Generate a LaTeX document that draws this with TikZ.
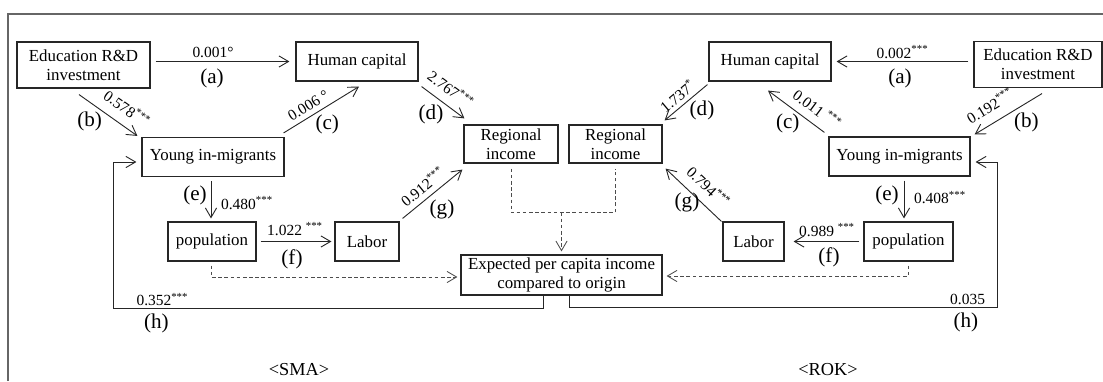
\documentclass[tikz,border=0pt]{standalone}
\usepackage{fontspec}
\setmainfont{Liberation Serif}
\usepackage{tikz}
\usetikzlibrary{arrows.meta, calc}
\tikzset{>={Straight Barb[length=2.4mm,width=2.8mm]}}
\newcommand{\boxfont}{\fontsize{12}{13.5}\selectfont}
\newcommand{\coeffont}{\fontsize{11}{13}\selectfont}
\newcommand{\tagfont}{\fontsize{15}{17}\selectfont}
\newcommand{\sig}{\textsuperscript{***}}

\begin{document}
\begin{tikzpicture}[x=0.025cm, y=-0.025cm,
		varbox/.style = {draw=black!85, line width=0.8pt, inner sep=1pt, minimum height=0.975cm, align=center, font=\boxfont},
		coef/.style = {inner sep=1pt, font=\coeffont},
		tag/.style = {inner sep=1pt, font=\tagfont},
		link/.style = {->, line width=0.65pt, draw=black!85},
		flow/.style = {line width=0.6pt, draw=black!70, dash pattern=on 2.6pt off 1.8pt}]
		\useasboundingbox (0,0) rectangle (1103,381);
		\draw[black!60, line width=0.9pt] (8,381) -- (8,14) -- (1103,14);

		% SMA
		\node (edu1) [varbox, minimum width=3.325cm, minimum height=1.15cm] at (83.5,65) {Education R\&D\\investment};
		\node (hc1) [varbox, minimum width=3.05cm] at (357,61.5) {Human capital};
		\node (young1) [varbox, minimum width=3.55cm] at (213,157) {Young in-migrants};
		\node (reg1) [varbox, minimum width=2.35cm, minimum height=0.95cm] at (511,144) {Regional\\income};
		\node (pop1) [varbox, minimum width=2.2cm] at (212,241.5) {population};
		\node (lab1) [varbox, minimum width=1.6cm] at (367,241.5) {Labor};
		\node (exp) [varbox, minimum width=5.025cm, minimum height=1cm] at (561.5,275) {Expected per capita income\\compared to origin};
		% ROK
		\node (reg2) [varbox, minimum width=2.325cm, minimum height=0.95cm] at (615.5,144) {Regional\\income};
		\node (hc2) [varbox, minimum width=3.05cm] at (770,61.5) {Human capital};
		\node (edu2) [varbox, minimum width=3.2cm, minimum height=1.15cm] at (1038,64.5) {Education R\&D\\investment};
		\node (young2) [varbox, minimum width=3.525cm] at (899.5,156.5) {Young in-migrants};
		\node (pop2) [varbox, minimum width=2.225cm] at (908.5,241.5) {population};
		\node (lab2) [varbox, minimum width=1.525cm] at (753.5,241.5) {Labor};

		\node (sma) [font=\fontsize{13}{15}\selectfont] at (299,370) {<SMA>};
		\node (rok) [font=\fontsize{13}{15}\selectfont] at (828,370) {<ROK>};

		\coordinate (join) at ($(exp.north)+(0,-42)$);
		\coordinate (hl) at ($(young1.west)+(-28,151)$);
		\coordinate (hr) at ($(young2.east)+(27,150.5)$);

		% SMA paths
		\draw[link] ($(edu1.east |- hc1.west)+(5,0)$) -- node[coef, midway, shift={(-9.5,-9.5)}] {0.001°} node[tag, midway, shift={(-10.5,16.5)}] {(a)} ($(hc1.west)+(-6,0)$);
		\draw[link] ($(edu1.south)+(-4.5,6)$) -- node[coef, sloped, pos=0.66, above=5.9pt] {0.578\sig} node[tag, midway, shift={(-18.5,6.5)}] {(b)} ($(young1.north west)+(-4,-1)$);
		\draw[link] ($(young1.north east)+(-1,-4)$) -- node[coef, sloped, pos=0.40, above=2.3pt] {0.006 °} node[tag, midway, shift={(6,15)}] {(c)} ($(hc1.south)+(2,5)$);
		\draw[link] ($(hc1.south east)+(3,5)$) -- node[coef, sloped, pos=0.47, above=5.1pt] {2.767\sig} node[tag, midway, shift={(-12,11.5)}] {(d)} ($(reg1.north west)+(1,-6)$);
		\draw[link] ($(pop1.north |- young1.south)+(-1,4)$) -- node[tag, midway, shift={(-16,-4.5)}] {(e)} node[coef, midway, shift={(36,3.5)}] {0.480\sig} ($(pop1.north)+(-1,-3)$);
		\draw[link] ($(pop1.east)+(4,0)$) -- node[coef, midway, shift={(-1,-12.5)}] {1.022 \sig} node[tag, midway, shift={(-4,17.5)}] {(f)} ($(lab1.west)+(-3,0)$);
		\draw[link] ($(lab1.north east)+(3,-3)$) -- node[coef, sloped, pos=0.46, above=2.6pt] {0.912\sig} node[tag, midway, shift={(9.5,15)}] {(g)} ($(reg1.south west)+(-1,6)$);
		\draw[link] ($(exp.south)+(-18.5,0)$) |- node[coef, pos=0.943, above] {0.352\sig} node[tag, pos=0.95, below=3pt] {(h)} (hl) |- ($(young1.west)+(-5,5)$);

		% ROK paths
		\draw[link] ($(edu2.west |- hc2.east)+(-5,0)$) -- node[coef, midway, shift={(0,-9.5)}] {0.002\sig} node[tag, midway, shift={(-2.5,16.5)}] {(a)} ($(hc2.east)+(5,0)$);
		\draw[link] ($(edu2.south)+(4,5.5)$) -- node[coef, sloped, pos=0.645, above=6pt] {0.192\sig} node[tag, midway, shift={(18,8)}] {(b)} ($(young2.north east)+(4,-2)$);
		\draw[link] ($(young2.north west)+(-4,-4)$) -- node[coef, sloped, pos=0.28, above=4.6pt] {0.011 \sig} node[tag, midway, shift={(-8.5,11.5)}] {(c)} ($(hc2.south)+(-2,9)$);
		\draw[link] ($(hc2.south west)+(-1,3)$) -- node[coef, sloped, pos=0.545, above=1.6pt] {1.737\textsuperscript{*}} node[tag, midway, shift={(16,7.5)}] {(d)} ($(reg2.north east)+(2,-4)$);
		\draw[link] ($(pop2.north |- young2.south)+(-4.5,4)$) -- node[tag, midway, shift={(-17,-4)}] {(e)} node[coef, midway, shift={(36,-2)}] {0.408\sig} ($(pop2.north)+(-4.5,-3)$);
		\draw[link] ($(pop2.west)+(-4,0)$) -- node[coef, midway, shift={(0.5,-11.5)}] {0.989 \sig} node[tag, midway, shift={(2.5,15.5)}] {(f)} ($(lab2.east)+(9,0)$);
		\draw[link] ($(lab2.north west)+(-1,0)$) -- node[coef, sloped, pos=0.43, above=5.7pt] {0.794\sig} node[tag, midway, shift={(-6.5,7)}] {(g)} ($(reg2.south east)+(3,5)$);
		\draw[link] ($(exp.south)+(7.5,0)$) |- node[coef, pos=0.965, above] {0.035} node[tag, pos=0.963, below=3pt] {(h)} (hr) |- ($(young2.east)+(5,5.5)$);

		% dashed links to the expected income
		\draw[flow] ($(reg1.south)+(0,5)$) |- (join) -| ($(reg2.south)+(0,5)$);
		\draw[flow, ->] (join) -- ($(exp.north)+(0,-3)$);
		\draw[flow, ->] ($(pop1.south)+(-1,4)$) |- ($(exp.west)+(-3,2)$);
		\draw[flow, ->] ($(pop2.south)+(0,4)$) |- ($(exp.east)+(4,1)$);
	\end{tikzpicture}
\end{document}
